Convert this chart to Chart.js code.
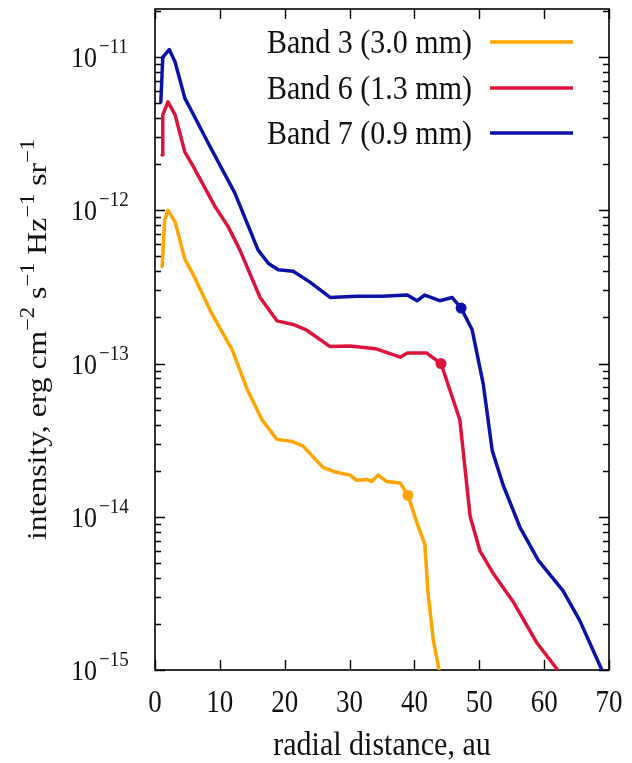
<!DOCTYPE html>
<html>
<head>
<meta charset="utf-8">
<script src="https://cdn.jsdelivr.net/npm/chart.js@4.4.1/dist/chart.umd.min.js"></script>
<style>
  html, body { margin: 0; padding: 0; background: #fff; }
  #wrap { width: 632px; height: 763px; }
</style>
</head>
<body>
<div id="wrap"><canvas id="profileChart" width="632" height="763"></canvas></div>
<script>
// radial profiles (au, erg cm^-2 s^-1 Hz^-1 sr^-1)
const band3X = [1.1, 1.5, 2.0, 3.1, 4.6, 5.9, 8.8, 11.9, 14.2, 16.5, 18.8, 21.1, 22.8, 25.9, 27.8, 30.1, 31.1, 32.8, 33.4, 34.4, 35.7, 37.8, 39.0, 40.4, 41.6, 42.1, 42.9, 43.8];
const band3Y = [4.3e-13, 8.7e-13, 1.0e-12, 8.4e-13, 4.8e-13, 3.8e-13, 2.1e-13, 1.23e-13, 6.8e-14, 4.3e-14, 3.2e-14, 3.1e-14, 2.9e-14, 2.1e-14, 1.96e-14, 1.87e-14, 1.73e-14, 1.75e-14, 1.7e-14, 1.87e-14, 1.7e-14, 1.66e-14, 1.38e-14, 9.1e-15, 6.6e-15, 3.2e-15, 1.58e-15, 1.0e-15];

const band6X = [1.1, 1.2, 2.0, 3.1, 4.6, 5.7, 9.3, 11.3, 13.1, 16.2, 18.8, 21.3, 23.4, 27.0, 30.1, 34.0, 37.8, 38.9, 41.9, 44.1, 47.0, 48.6, 50.1, 52.1, 55.2, 58.9, 62.1];
const band6Y = [2.3e-12, 4.2e-12, 5.1e-12, 4.2e-12, 2.4e-12, 2.0e-12, 1.05e-12, 7.8e-13, 5.5e-13, 2.7e-13, 1.9e-13, 1.8e-13, 1.65e-13, 1.29e-13, 1.3e-13, 1.25e-13, 1.1e-13, 1.17e-13, 1.17e-13, 1.0e-13, 4.3e-14, 1.0e-14, 6.0e-15, 4.3e-15, 2.8e-15, 1.5e-15, 1.0e-15];

const band7X = [0.9, 1.2, 2.2, 3.1, 4.6, 5.7, 8.5, 12.3, 15.9, 17.5, 19.0, 21.3, 23.9, 27.0, 31.1, 35.0, 38.9, 40.4, 41.6, 43.9, 45.8, 47.2, 48.9, 50.6, 52.0, 53.7, 56.3, 59.1, 62.9, 65.5, 68.9];
const band7Y = [5.1e-12, 1.0e-11, 1.12e-11, 9.3e-12, 5.4e-12, 4.4e-12, 2.6e-12, 1.3e-12, 5.5e-13, 4.5e-13, 4.1e-13, 4.0e-13, 3.4e-13, 2.7e-13, 2.75e-13, 2.75e-13, 2.8e-13, 2.57e-13, 2.8e-13, 2.57e-13, 2.7e-13, 2.3e-13, 1.66e-13, 7.4e-14, 2.7e-14, 1.6e-14, 8.5e-15, 5.2e-15, 3.3e-15, 2.1e-15, 1.0e-15];

// filled dots on each curve
const markerX = [39.0, 44.1, 47.2];
const markerY = [1.38e-14, 1.0e-13, 2.3e-13];

const bandLabels = ['Band 3 (3.0 mm)', 'Band 6 (1.3 mm)', 'Band 7 (0.9 mm)'];
const bandColors = ['#ffa500', '#dc143c', '#0c12a6'];

const xTicks = [0, 10, 20, 30, 40, 50, 60, 70];
const yExponents = [-15, -14, -13, -12, -11];

const SERIF = '"Liberation Serif", "DejaVu Serif", serif';
const STRETCH = 1.13; // the source text is a bit taller than wide

function toPoints(xs, ys) {
  return xs.map((x, i) => ({ x: x, y: ys[i] }));
}

function lineSet(label, xs, ys, color) {
  return {
    label: label,
    data: toPoints(xs, ys),
    borderColor: color,
    backgroundColor: color,
    borderWidth: 3.5,
    pointRadius: 0,
    showLine: true,
    tension: 0,
    borderJoinStyle: 'round',
    borderCapStyle: 'round'
  };
}

function markerSet(i) {
  return {
    label: 'marker ' + i,
    data: [{ x: markerX[i], y: markerY[i] }],
    showLine: false,
    pointRadius: 5.5,
    pointBorderWidth: 0,
    pointBackgroundColor: bandColors[i],
    pointBorderColor: bandColors[i],
    clip: false
  };
}

// text drawn slightly stretched along its height
function tallText(ctx, text, x, y, size, align) {
  ctx.save();
  ctx.translate(x, y);
  ctx.scale(1, STRETCH);
  ctx.font = size + 'px ' + SERIF;
  ctx.textAlign = align;
  ctx.fillText(text, 0, 0);
  ctx.restore();
}

// gnuplot-like frame, inward ticks, labels and legend
const framePlugin = {
  id: 'gnuplotFrame',
  beforeDatasetsDraw(chart) {
    const { ctx, chartArea: a, scales } = chart;
    const x = scales.x, y = scales.y;
    ctx.save();
    ctx.strokeStyle = '#000';
    ctx.lineWidth = 1.4;
    ctx.beginPath();

    yExponents.forEach(e => {
      for (let m = 1; m <= 9; m++) {
        const v = m * Math.pow(10, e);
        if (v < y.min || v > y.max) continue;
        const py = Math.round(y.getPixelForValue(v)) + 0.5;
        const len = m === 1 ? 10 : 6;
        ctx.moveTo(a.left, py); ctx.lineTo(a.left + len, py);
        ctx.moveTo(a.right, py); ctx.lineTo(a.right - len, py);
      }
    });

    xTicks.forEach(t => {
      const px = Math.round(x.getPixelForValue(t)) + 0.5;
      ctx.moveTo(px, a.bottom); ctx.lineTo(px, a.bottom - 10);
      ctx.moveTo(px, a.top); ctx.lineTo(px, a.top + 10);
    });
    ctx.stroke();

    ctx.lineWidth = 1.6;
    ctx.strokeRect(a.left, a.top, a.right - a.left, a.bottom - a.top);
    ctx.restore();
  },
  afterDraw(chart) {
    const { ctx, chartArea: a, scales } = chart;
    const x = scales.x, y = scales.y;
    ctx.save();
    ctx.fillStyle = '#111';

    // y tick labels 10^n
    yExponents.forEach(e => {
      const py = y.getPixelForValue(Math.pow(10, e));
      tallText(ctx, '10', 97, py + 10, 26, 'right');
      tallText(ctx, '\u2212' + Math.abs(e), 99, py - 4, 19, 'left');
    });

    // x tick labels
    xTicks.forEach(t => {
      tallText(ctx, String(t), x.getPixelForValue(t), 712, 27, 'center');
    });

    // x title
    tallText(ctx, 'radial distance, au', (a.left + a.right) / 2, 755, 30, 'center');

    // y title, rotated, with superscripts
    const parts = [
      ['intensity, erg cm', false], ['\u22122', true], [' s', false], ['\u22121', true],
      [' Hz', false], ['\u22121', true], [' sr', false], ['\u22121', true]
    ];
    const mainFont = '28px ' + SERIF, supFont = '20px ' + SERIF;
    let total = 0;
    parts.forEach(p => { ctx.font = p[1] ? supFont : mainFont; total += ctx.measureText(p[0]).width; });
    ctx.translate(46, (a.top + a.bottom) / 2);
    ctx.rotate(-Math.PI / 2);
    ctx.scale(STRETCH, 1);
    ctx.textAlign = 'left';
    let cx = -total / 2;
    parts.forEach(p => {
      ctx.font = p[1] ? supFont : mainFont;
      ctx.fillText(p[0], cx, p[1] ? -12 : 0);
      cx += ctx.measureText(p[0]).width;
    });
    ctx.setTransform(1, 0, 0, 1, 0, 0);

    // legend: text right-aligned, line sample to the right
    const rowsY = [42, 88, 133];
    bandLabels.forEach((lab, i) => {
      ctx.fillStyle = '#111';
      tallText(ctx, lab, 472, rowsY[i] + 11, 30, 'right');
      ctx.strokeStyle = bandColors[i];
      ctx.lineWidth = 3.5;
      ctx.beginPath();
      ctx.moveTo(490, rowsY[i]);
      ctx.lineTo(573, rowsY[i]);
      ctx.stroke();
    });
    ctx.restore();
  }
};

document.addEventListener('DOMContentLoaded', () => {
  const canvas = document.getElementById('profileChart');
  new Chart(canvas, {
    type: 'scatter',
    data: {
      datasets: [
        lineSet(bandLabels[0], band3X, band3Y, bandColors[0]),
        lineSet(bandLabels[1], band6X, band6Y, bandColors[1]),
        lineSet(bandLabels[2], band7X, band7Y, bandColors[2]),
        markerSet(0), markerSet(1), markerSet(2)
      ]
    },
    options: {
      responsive: false,
      animation: false,
      devicePixelRatio: 1,
      layout: { padding: { left: 155, right: 23, top: 9, bottom: 93 } },
      plugins: { legend: { display: false }, tooltip: { enabled: false } },
      scales: {
        x: { type: 'linear', min: 0, max: 70, display: false },
        y: { type: 'logarithmic', min: 1e-15, max: 2.06e-11, display: false }
      }
    },
    plugins: [framePlugin]
  });
});
</script>
</body>
</html>
